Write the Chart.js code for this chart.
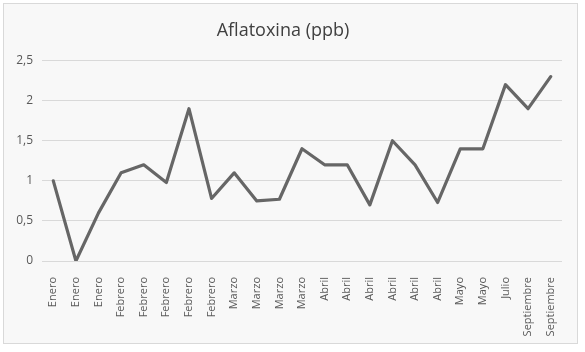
<!DOCTYPE html>
<html><head><meta charset="utf-8">
<script src="https://cdn.jsdelivr.net/npm/chart.js@4/dist/chart.umd.min.js"></script>
<style>
html,body{margin:0;padding:0;background:#fff;}
#box{position:absolute;left:3px;top:3px;width:573px;height:339px;border:1px solid #d9d9d9;background:#f8f8f8;}
canvas{display:block;}
</style></head><body>
<div id="box"><canvas id="c" width="573" height="339"></canvas></div>
<script>
const categories = ["Enero","Enero","Enero","Febrero","Febrero","Febrero","Febrero","Febrero","Marzo","Marzo","Marzo","Marzo","Abril","Abril","Abril","Abril","Abril","Abril","Mayo","Mayo","Julio","Septiembre","Septiembre"];
const aflatoxina = [1.0,0,0.6,1.1,1.2,0.98,1.9,0.78,1.1,0.75,0.77,1.4,1.2,1.2,0.7,1.5,1.2,0.73,1.4,1.4,2.2,1.9,2.3];
const yTicks = [0,0.5,1,1.5,2,2.5];
const titleText = "Aflatoxina (ppb)";
const font = "'Open Sans', 'Liberation Sans', sans-serif";
new Chart(document.getElementById('c'), {
  type: 'line',
  data: { labels: categories, datasets: [{ label: titleText, data: aflatoxina, borderColor: '#666666', borderWidth: 3.2, pointRadius: 0, tension: 0, borderJoinStyle: 'round', borderCapStyle: 'round', fill: false }] },
  options: {
    responsive: false, animation: false,
    layout: { padding: { left: 0, right: 15, top: 0, bottom: 0 } },
    plugins: {
      legend: { display: false }, tooltip: { enabled: false },
      title: { display: true, text: titleText, color: '#404040', font: { family: font, size: 18, weight: 'normal' }, padding: { top: 16, bottom: 19 } }
    },
    scales: {
      x: {
        offset: true,
        grid: { display: false },
        border: { display: false },
        ticks: { color: '#595959', font: { family: font, size: 11 }, minRotation: 90, maxRotation: 90, padding: 8, autoSkip: false },
        afterFit: s => { s.height = 82; }
      },
      y: {
        min: 0, max: 2.5,
        afterBuildTicks: s => { s.ticks = yTicks.map(v => ({ value: v })); },
        grid: { color: '#d9d9d9', drawTicks: false, lineWidth: 1 },
        border: { display: false },
        ticks: { color: '#595959', font: { family: font, size: 12 }, padding: 9, callback: v => String(v).replace('.', ',') },
        afterFit: s => { s.width = 38; }
      }
    }
  }
});
</script>
</body></html>
